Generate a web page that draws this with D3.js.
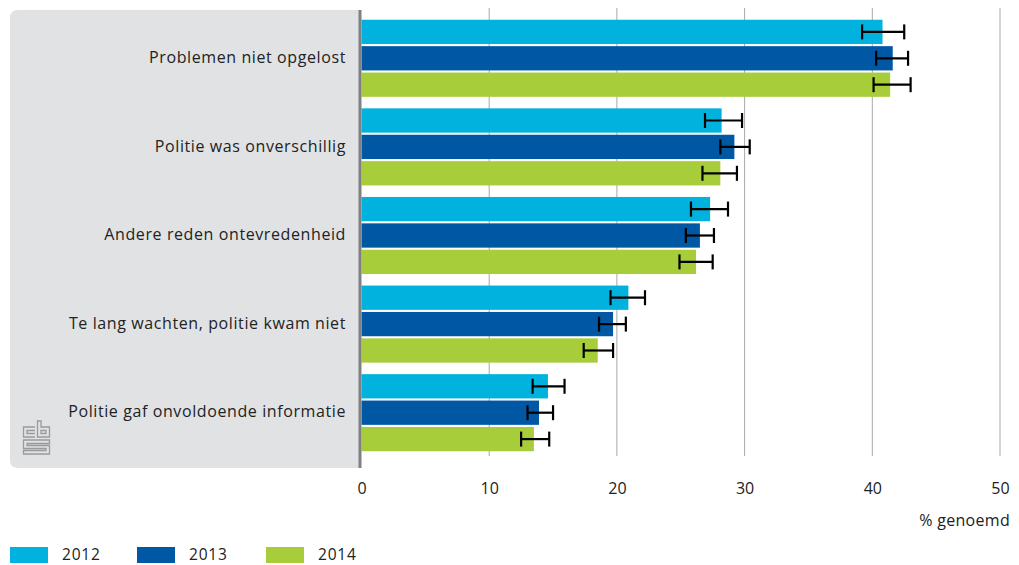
<!DOCTYPE html>
<html><head><meta charset="utf-8">
<script src="https://cdn.jsdelivr.net/npm/d3@7"></script>
<style>body{margin:0;background:#fff}svg{display:block}text{font-family:"Open Sans",sans-serif;}</style>
</head><body><svg id="c" width="1019" height="565"></svg>
<script>
const categories = ["Problemen niet opgelost","Politie was onverschillig","Andere reden ontevredenheid","Te lang wachten, politie kwam niet","Politie gaf onvoldoende informatie"];
const years = ["2012","2013","2014"];
const colors = ["#00b2dd","#0057a4","#a8cd3a"];
const v2012 = [40.8, 28.2, 27.3, 20.9, 14.6];
const v2013 = [41.6, 29.2, 26.5, 19.7, 13.9];
const v2014 = [41.4, 28.1, 26.2, 18.5, 13.5];
const lo2012 = [39.2, 26.9, 25.8, 19.5, 13.4];
const hi2012 = [42.5, 29.8, 28.7, 22.2, 15.9];
const lo2013 = [40.3, 28.1, 25.4, 18.6, 13.0];
const hi2013 = [42.8, 30.4, 27.6, 20.7, 15.0];
const lo2014 = [40.1, 26.7, 24.9, 17.4, 12.5];
const hi2014 = [43.0, 29.4, 27.5, 19.7, 14.7];
const xTicks = [0,10,20,30,40,50];
const xTitle = "% genoemd";

const series = [
  {year:years[0], vals:v2012, lo:lo2012, hi:hi2012, color:colors[0]},
  {year:years[1], vals:v2013, lo:lo2013, hi:hi2013, color:colors[1]},
  {year:years[2], vals:v2014, lo:lo2014, hi:hi2014, color:colors[2]}
];

const svg = d3.select("#c");
const x = d3.scaleLinear().domain([0,50]).range([361.5,1000]);
const y0 = d3.scaleBand().domain(categories).range([14,457]).paddingInner(0.13).paddingOuter(0.065);
const y1 = d3.scaleBand().domain(years).range([0,y0.bandwidth()]).paddingInner(0.08);

// panel
const px=10, py=10, pw=350, ph=458, r=8;
svg.append("path").attr("fill","#e1e2e4")
  .attr("d",`M${px+r},${py} H${px+pw} V${py+ph} H${px+r} Q${px},${py+ph} ${px},${py+ph-r} V${py+r} Q${px},${py} ${px+r},${py} Z`);

// grid
svg.append("g").selectAll("line").data(xTicks.slice(1)).join("line")
  .attr("x1",d=>x(d)).attr("x2",d=>x(d)).attr("y1",8).attr("y2",456)
  .attr("stroke","#a9a9a9").attr("stroke-width",1);

// bars
const g = svg.append("g");
series.forEach(s=>{
  g.append("g").selectAll("rect").data(categories).join("rect")
    .attr("x",x(0)).attr("y",(d)=>y0(d)+y1(s.year))
    .attr("width",(d,i)=>x(s.vals[i])-x(0)).attr("height",y1.bandwidth())
    .attr("fill",s.color);
});
// error bars
series.forEach(s=>{
  const eg = g.append("g").attr("stroke","#000").attr("stroke-width",2.2);
  categories.forEach((c,i)=>{
    const cy = y0(c)+y1(s.year)+y1.bandwidth()/2;
    const h = 7.5;
    eg.append("line").attr("x1",x(s.lo[i])).attr("x2",x(s.hi[i])).attr("y1",cy).attr("y2",cy);
    eg.append("line").attr("x1",x(s.lo[i])).attr("x2",x(s.lo[i])).attr("y1",cy-h).attr("y2",cy+h);
    eg.append("line").attr("x1",x(s.hi[i])).attr("x2",x(s.hi[i])).attr("y1",cy-h).attr("y2",cy+h);
  });
});

// axis line
svg.append("rect").attr("x",358.5).attr("y",10).attr("width",3).attr("height",458).attr("fill","#7e8083");

// category labels
svg.append("g").selectAll("text").data(categories).join("text")
  .attr("x",346).attr("y",d=>y0(d)+y0.bandwidth()/2 - 1).attr("dy","0.35em")
  .attr("text-anchor","end").attr("font-size",16).attr("fill","#222")
  .attr("letter-spacing","0.6px").text(d=>d);

// x tick labels
const xa = d3.axisBottom(x).tickValues(xTicks).tickSize(0).tickPadding(0);
const ax = svg.append("g").attr("transform","translate(0,483)").call(xa);
ax.select(".domain").remove();
ax.selectAll("text").attr("font-size",16).attr("fill","#222").attr("font-family","Open Sans, sans-serif");
svg.append("text").attr("x",1010).attr("y",526).attr("text-anchor","end")
  .attr("font-size",16).attr("fill","#222").attr("letter-spacing","0.3px").text(xTitle);

// legend
const lx = [10,137,266];
series.forEach((s,i)=>{
  svg.append("rect").attr("x",lx[i]).attr("y",547).attr("width",38).attr("height",16).attr("fill",s.color);
  svg.append("text").attr("x",lx[i]+52).attr("y",555).attr("dy","0.35em").attr("font-size",15.5).attr("fill","#222")
    .attr("letter-spacing","0.8px").text(s.year);
});

// cbs logo (approximation)
const lg = svg.append("g").attr("fill","none").attr("stroke","#9a9a9a").attr("stroke-width",1.3);
lg.append("path").attr("d","M35,427 H23.5 V437 H35 M35,430.5 H27 V433.5 H35");
lg.append("path").attr("d","M37.5,421 V437 H49.5 V427 H41 V421 Z M41,430.5 H46 V433.5 H41 Z");
lg.append("path").attr("d","M23.5,440 H49.5 V443.5 H27 V445.5 H49.5 V454 H23.5 V450.5 H46 V448.5 H23.5 Z");
</script></body></html>
